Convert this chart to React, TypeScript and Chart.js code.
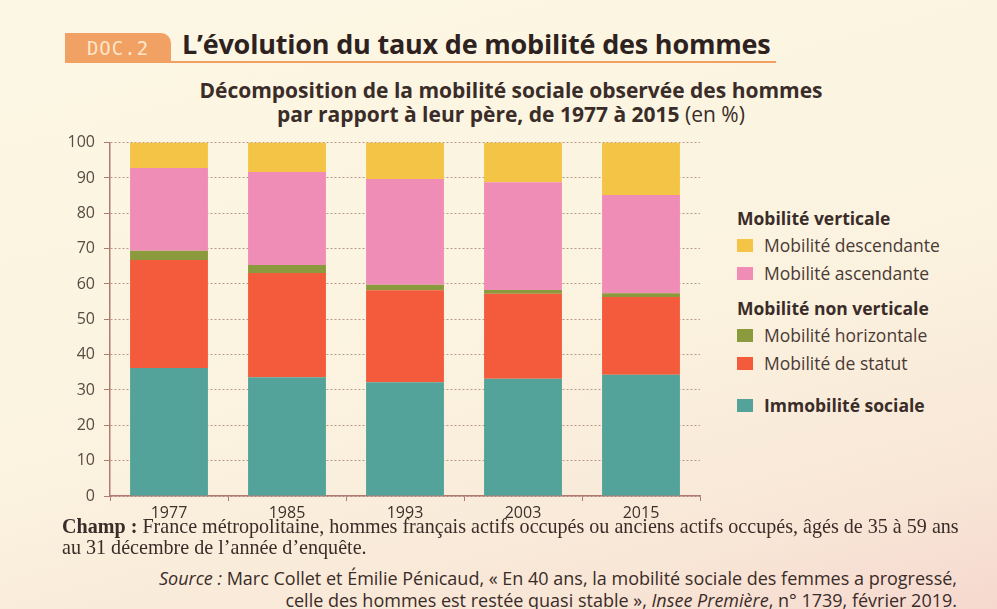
import React, { useEffect, useRef } from "react";
import { Chart, registerables } from "chart.js";

Chart.register(...registerables);

const years = ["1977", "1985", "1993", "2003", "2015"];
const immobilite = [36.2, 33.6, 32.2, 33.2, 34.3];
const statut = [30.6, 29.5, 26.0, 24.0, 22.0];
const horizontale = [2.6, 2.3, 1.6, 1.1, 1.1];
const ascendante = [23.4, 26.3, 29.9, 30.5, 27.8];
const descendante = [7.2, 8.3, 10.3, 11.2, 14.8];

const seriesNames = [
  "Immobilité sociale",
  "Mobilité de statut",
  "Mobilité horizontale",
  "Mobilité ascendante",
  "Mobilité descendante",
];
const seriesColors = ["#54a39b", "#f45a3c", "#8a9a3c", "#ef8db6", "#f4c446"];

const SANS = "'Open Sans', 'Noto Sans', sans-serif";

export default function App() {
  const ref = useRef<HTMLCanvasElement | null>(null);

  useEffect(() => {
    document.body.style.margin = "0";
    const ctx = ref.current;
    if (!ctx) return;
    const values = [immobilite, statut, horizontale, ascendante, descendante];
    const chart = new Chart(ctx, {
      type: "bar",
      data: {
        labels: years,
        datasets: values.map((v, i) => ({
          label: seriesNames[i],
          data: v,
          backgroundColor: seriesColors[i],
          borderWidth: 0,
          barPercentage: 0.66,
          categoryPercentage: 1,
        })),
      },
      options: {
        responsive: false,
        maintainAspectRatio: false,
        animation: false,
        layout: { padding: { top: 10, right: 10, left: 0, bottom: 0 } },
        plugins: { legend: { display: false }, tooltip: { enabled: false }, title: { display: false } },
        scales: {
          x: {
            stacked: true,
            grid: {
              display: true,
              drawOnChartArea: false,
              drawTicks: true,
              tickLength: 5,
              color: "#b07a70",
              offset: true,
            },
            border: { display: true, color: "#b07a70", width: 1.5 },
            ticks: { font: { family: SANS, size: 16 }, color: "#3e302c", padding: 3 },
            afterFit: (s: any) => {
              s.height = 26;
            },
          },
          y: {
            stacked: true,
            min: 0,
            max: 100,
            ticks: { stepSize: 10, font: { family: SANS, size: 16 }, color: "#5a4a44", padding: 9 },
            grid: { color: "#b8998a", lineWidth: 1, tickLength: 6, tickColor: "#b07a70", tickBorderDash: [] },
            border: { display: true, color: "#b07a70", width: 1.5, dash: [2, 2] },
            afterFit: (s: any) => {
              s.width = 55;
            },
          },
        },
      },
    });
    return () => chart.destroy();
  }, []);

  const legendItem = (i: number, bold = false) => (
    <div style={{ display: "flex", alignItems: "center", height: 28 }}>
      <span
        style={{
          display: "inline-block",
          width: 16,
          height: 13,
          background: seriesColors[i],
          marginRight: 11,
        }}
      />
      <span style={{ fontWeight: bold ? 700 : 400, color: bold ? "#3a2c28" : "#4a3a35" }}>{seriesNames[i]}</span>
    </div>
  );

  return (
    <div
      style={{
        position: "relative",
        width: 997,
        height: 609,
        overflow: "hidden",
        background: "linear-gradient(165deg, #fcf7e4 0%, #fbf3df 55%, #f8e6d6 85%, #f6d8cf 100%)",
        fontFamily: SANS,
      }}
    >
      {/* DOC header */}
      <div
        style={{
          position: "absolute",
          left: 65,
          top: 33,
          width: 106,
          height: 30,
          background: "#f1a163",
          borderTopRightRadius: 10,
          color: "#fde6c8",
          fontFamily: "'DejaVu Sans Mono', monospace",
          fontSize: 19,
          lineHeight: "30px",
          textAlign: "center",
          letterSpacing: 1,
        }}
      >
        DOC.2
      </div>
      <div style={{ position: "absolute", left: 171, top: 61, width: 605, height: 2, background: "#f1a163" }} />
      <div
        style={{
          position: "absolute",
          left: 182,
          top: 25,
          fontSize: 27,
          fontWeight: 700,
          color: "#2e2220",
          whiteSpace: "nowrap",
          letterSpacing: -0.2,
        }}
      >
        L’évolution du taux de mobilité des hommes
      </div>
      {/* Subtitle */}
      <div
        style={{
          position: "absolute",
          left: 0,
          width: 1022,
          top: 78,
          textAlign: "center",
          fontSize: 21,
          fontWeight: 700,
          color: "#3a2c28",
          lineHeight: "24px",
          whiteSpace: "nowrap",
        }}
      >
        Décomposition de la mobilité sociale observée des hommes
        <br />
        par rapport à leur père, de 1977 à 2015 <span style={{ fontWeight: 400 }}>(en %)</span>
      </div>

      <canvas
        ref={ref}
        width={655}
        height={398}
        style={{ position: "absolute", left: 55, top: 124, width: 655, height: 398 }}
      />

      {/* Legend */}
      <div style={{ position: "absolute", left: 737, top: 205, fontSize: 17.5, color: "#3a2c28", whiteSpace: "nowrap" }}>
        <div style={{ fontWeight: 700, height: 26, lineHeight: "26px" }}>Mobilité verticale</div>
        {legendItem(4)}
        {legendItem(3)}
        <div style={{ fontWeight: 700, height: 26, lineHeight: "26px", marginTop: 8 }}>Mobilité non verticale</div>
        {legendItem(2)}
        {legendItem(1)}
        <div style={{ marginTop: 14 }}>{legendItem(0, true)}</div>
      </div>

      {/* Footer */}
      <div
        style={{
          position: "absolute",
          left: 62,
          top: 516,
          fontFamily: "'Liberation Serif', 'DejaVu Serif', serif",
          fontSize: 20.1,
          lineHeight: "21px",
          color: "#3a2c28",
          whiteSpace: "nowrap",
        }}
      >
        <b>Champ :</b> France métropolitaine, hommes français actifs occupés ou anciens actifs occupés, âgés de 35 à 59 ans
        <br />
        au 31 décembre de l’année d’enquête.
      </div>
      <div
        style={{
          position: "absolute",
          right: 40,
          top: 567,
          fontSize: 18,
          lineHeight: "22px",
          color: "#3a2c28",
          textAlign: "right",
          whiteSpace: "nowrap",
        }}
      >
        <i>Source :</i> Marc Collet et Émilie Pénicaud, « En 40 ans, la mobilité sociale des femmes a progressé,
        <br />
        celle des hommes est restée quasi stable », <i>Insee Première</i>, n° 1739, février 2019.
      </div>
    </div>
  );
}
